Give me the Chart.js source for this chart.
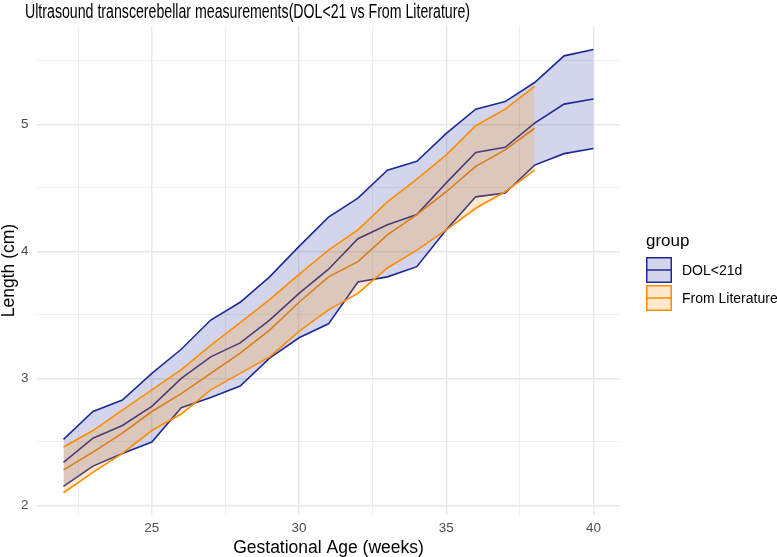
<!DOCTYPE html>
<html>
<head>
<meta charset="utf-8">
<script src="https://cdn.jsdelivr.net/npm/chart.js@4.4.1/dist/chart.umd.min.js"></script>
<style>
	html, body {margin: 0; padding: 0; background: #fff;}
</style>
</head>
<body>
<canvas id="chart" width="777" height="557"></canvas>
<script>
// Gestational age (weeks)
var weeks     = [22, 23, 24, 25, 26, 27, 28, 29, 30, 31, 32, 33, 34, 35, 36, 37, 38, 39, 40];

// DOL<21d : upper, mean, lower (cm)
var dolUpper  = [2.52, 2.74, 2.83, 3.04, 3.23, 3.46, 3.60, 3.80, 4.04, 4.27, 4.42, 4.64, 4.71, 4.93, 5.12, 5.18, 5.33, 5.54, 5.59];
var dolMean   = [2.34, 2.53, 2.63, 2.78, 3.00, 3.17, 3.28, 3.46, 3.67, 3.86, 4.10, 4.21, 4.29, 4.54, 4.78, 4.82, 5.01, 5.16, 5.20];
var dolLower  = [2.15, 2.31, 2.41, 2.50, 2.77, 2.85, 2.94, 3.16, 3.32, 3.43, 3.76, 3.80, 3.88, 4.17, 4.43, 4.46, 4.68, 4.77, 4.81];

// From Literature : upper, mean, lower (cm), weeks 22-38
var litUpper  = [2.46, 2.59, 2.75, 2.91, 3.07, 3.26, 3.44, 3.62, 3.82, 4.01, 4.17, 4.39, 4.57, 4.76, 4.99, 5.12, 5.30];
var litMean   = [2.28, 2.42, 2.57, 2.74, 2.88, 3.04, 3.20, 3.38, 3.60, 3.80, 3.92, 4.13, 4.29, 4.47, 4.67, 4.80, 4.97];
var litLower  = [2.10, 2.26, 2.41, 2.59, 2.72, 2.91, 3.04, 3.17, 3.37, 3.54, 3.67, 3.87, 4.01, 4.17, 4.34, 4.47, 4.64];

var groups    = ['DOL<21d', 'From Literature'];
var titleText = 'Ultrasound transcerebellar measurements(DOL<21 vs From Literature)';

var BLUE      = '#1c2a96';
var BLUE_FILL = 'rgba(31,46,154,0.2)';
var ORNG      = '#ff8c00';
var ORNG_FILL = 'rgba(255,140,0,0.2)';
var FONT      = "'Liberation Sans', Arial, Helvetica, sans-serif";

function pts(vals) {
	return vals.map(function(v, i) {return {x: weeks[i], y: v};});
}

function isWhole(v, step) {
	var r = v / step;
	return Math.abs(r - Math.round(r)) < 1e-6;
}

// title + legend drawn by hand, ggplot style
var extras = {
	id: 'extras',
	afterDraw: function(chart) {
		var ctx = chart.ctx;
		ctx.save();
		ctx.fillStyle    = '#000';
		ctx.textBaseline = 'middle';
		ctx.textAlign    = 'left';

		// the title in the picture is a condensed face, squeeze it to the same width
		ctx.save();
		ctx.font = '19.5px ' + FONT;
		var w = ctx.measureText(titleText).width;
		ctx.translate(25, 13);
		ctx.scale(445 / w, 1);
		ctx.fillText(titleText, 0, 0);
		ctx.restore();

		ctx.font = '17px ' + FONT;
		ctx.fillText('group', 646, 241);

		var keys = [[BLUE, BLUE_FILL], [ORNG, ORNG_FILL]];
		for (var k = 0; k < keys.length; k++) {
			var top = 257 + k * 28;
			ctx.fillStyle = '#fff';
			ctx.fillRect(646, top, 26, 26);
			ctx.fillStyle = keys[k][1];
			ctx.fillRect(646, top, 26, 26);
			ctx.strokeStyle = keys[k][0];
			ctx.lineWidth   = 1.5;
			ctx.strokeRect(646.75, top + 0.75, 24.5, 24.5);
			ctx.beginPath();
			ctx.moveTo(647, top + 13);
			ctx.lineTo(671, top + 13);
			ctx.stroke();
			ctx.fillStyle = '#000';
			ctx.font = '14px ' + FONT;
			ctx.fillText(groups[k], 682, top + 14);
		}
		ctx.restore();
	}
};

var lineBase = {pointRadius: 0, pointHoverRadius: 0, borderWidth: 1.6, tension: 0};

new Chart(document.getElementById('chart'), {
	type: 'line',
	data: {
		datasets: [
			Object.assign({label: groups[0], data: pts(dolUpper), borderColor: BLUE, backgroundColor: BLUE_FILL, fill: 1, order: 2}, lineBase),
			Object.assign({label: groups[0], data: pts(dolLower), borderColor: BLUE, fill: false, order: 3}, lineBase),
			Object.assign({label: groups[0], data: pts(dolMean),  borderColor: BLUE, fill: false, order: 5}, lineBase),
			Object.assign({label: groups[1], data: pts(litUpper), borderColor: ORNG, backgroundColor: ORNG_FILL, fill: 4, order: 0}, lineBase),
			Object.assign({label: groups[1], data: pts(litLower), borderColor: ORNG, fill: false, order: 1}, lineBase),
			Object.assign({label: groups[1], data: pts(litMean),  borderColor: ORNG, fill: false, order: 4}, lineBase)
		]
	},
	options: {
		responsive: false,
		animation:  false,
		layout:     {padding: {top: 26, right: 157, bottom: 0, left: 0}},
		plugins: {
			legend:  {display: false},
			tooltip: {enabled: false},
			filler:  {drawTime: 'beforeDatasetDraw'}
		},
		scales: {
			x: {
				type: 'linear',
				min:  21.1,
				max:  40.9,
				border: {display: false},
				grid: {
					color: '#e8e8e8',
					drawTicks: false,
					lineWidth: function(c) {return c.tick && isWhole(c.tick.value, 5) ? 1.4 : 0.7;}
				},
				ticks: {
					stepSize: 2.5,
					includeBounds: false,
					autoSkip: false,
					maxRotation: 0,
					padding: 5,
					color: '#4d4d4d',
					font: {family: FONT, size: 13.5},
					callback: function(v) {return isWhole(v, 5) ? v : '';}
				},
				title: {
					display: true,
					text: 'Gestational Age (weeks)',
					color: '#000',
					font: {family: FONT, size: 17.5, lineHeight: 1},
					padding: {top: 0, bottom: 0.5}
				},
				afterFit: function(s) {s.height = 42;}
			},
			y: {
				min: 1.925,
				max: 5.775,
				border: {display: false},
				grid: {
					color: '#e8e8e8',
					drawTicks: false,
					lineWidth: function(c) {return c.tick && isWhole(c.tick.value, 1) ? 1.4 : 0.7;}
				},
				ticks: {
					stepSize: 0.5,
					includeBounds: false,
					autoSkip: false,
					padding: 8.5,
					color: '#4d4d4d',
					font: {family: FONT, size: 13.5},
					callback: function(v) {return isWhole(v, 1) ? v : '';}
				},
				title: {
					display: true,
					text: 'Length (cm)',
					color: '#000',
					font: {family: FONT, size: 17.5, lineHeight: 1},
					padding: {top: 0, bottom: 0}
				},
				afterFit: function(s) {s.width = 37;}
			}
		}
	},
	plugins: [extras]
});
</script>
</body>
</html>
